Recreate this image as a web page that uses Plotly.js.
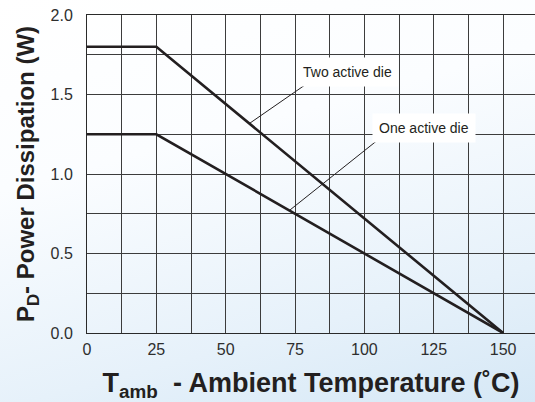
<!DOCTYPE html>
<html>
<head>
<meta charset="utf-8">
<script src="https://cdn.plot.ly/plotly-3.0.1.min.js"></script>
<style>
  html, body { margin: 0; padding: 0; }
  body { width: 535px; height: 402px; overflow: hidden;
         background: linear-gradient(165deg, #ffffff 0%, #fbfdff 35%, #e6f1fa 75%, #d6e8f6 100%); }
  #chart { width: 535px; height: 402px; }
</style>
</head>
<body>
<div id="chart"></div>
<script>
// Ambient temperature (°C) breakpoints of the derating curves
const tempC = [0, 25, 150];
// Power dissipation (W)
const twoDiePower = [1.8, 1.8, 0];
const oneDiePower = [1.25, 1.25, 0];

// Labels
const twoDieLabel = "Two active die";
const oneDieLabel = "One active die";
// Label anchor (data coords) and leader line endpoints [point on curve, tail]
const twoDieLabelPos = [93.8, 1.642];
const oneDieLabelPos = [121.5, 1.292];
const twoDieLeaderX = [58.4, 78.6];
const twoDieLeaderY = [1.316, 1.56];
const oneDieLeaderX = [73.2, 105.7];
const oneDieLeaderY = [0.774, 1.226];

const xTicks = [0, 25, 50, 75, 100, 125, 150];
const yTicks = [0, 0.5, 1.0, 1.5, 2.0];

const curveLine = { color: '#231f20', width: 2.6 };

const traces = [
  { x: tempC, y: twoDiePower, mode: 'lines', line: curveLine, name: twoDieLabel, hoverinfo: 'skip' },
  { x: tempC, y: oneDiePower, mode: 'lines', line: curveLine, name: oneDieLabel, hoverinfo: 'skip' }
];

const gridCol = '#3c3c3c';
const layout = {
  width: 535, height: 402,
  margin: { l: 87, r: 0, t: 15, b: 69 },
  paper_bgcolor: 'rgba(0,0,0,0)',
  plot_bgcolor: 'rgba(0,0,0,0)',
  showlegend: false,
  font: { family: 'Liberation Sans, Arial, sans-serif', color: '#2a2a2a' },
  xaxis: {
    range: [0, 161.5],
    tickvals: xTicks,
    ticktext: xTicks.map(String),
    tickfont: { size: 16, color: '#2e2e2e' },
    showgrid: true, gridcolor: gridCol, gridwidth: 1,
    minor: { dtick: 12.5, tick0: 0, showgrid: true, gridcolor: gridCol, gridwidth: 1 },
    dtick: 25,
    showline: true, linecolor: '#2a2a2a', linewidth: 1, mirror: true,
    zeroline: false, ticks: '', ticklabelstandoff: 2,
    title: { text: 'T<sub>amb</sub>  - Ambient Temperature (˚C)',
             font: { size: 27, family: 'Liberation Sans, Arial, sans-serif', weight: 'bold', color: '#231f20' },
             standoff: 16 }
  },
  yaxis: {
    range: [0, 2.0],
    tickvals: yTicks,
    ticktext: yTicks.map(v => v.toFixed(1)),
    tickfont: { size: 16, color: '#2e2e2e' },
    showgrid: true, gridcolor: gridCol, gridwidth: 1,
    minor: { dtick: 0.25, tick0: 0, showgrid: true, gridcolor: gridCol, gridwidth: 1 },
    showline: true, linecolor: '#2a2a2a', linewidth: 1,
    zeroline: false, ticks: '', ticklabelstandoff: 10,
    title: { text: 'P<sub>D</sub>- Power Dissipation (W)',
             font: { size: 24, family: 'Liberation Sans, Arial, sans-serif', weight: 'bold', color: '#231f20' },
             standoff: 9 }
  },
  shapes: [
    { type: 'line', xref: 'x', yref: 'y', x0: twoDieLeaderX[0], y0: twoDieLeaderY[0], x1: twoDieLeaderX[1], y1: twoDieLeaderY[1],
      line: { color: '#231f20', width: 1 } },
    { type: 'line', xref: 'x', yref: 'y', x0: oneDieLeaderX[0], y0: oneDieLeaderY[0], x1: oneDieLeaderX[1], y1: oneDieLeaderY[1],
      line: { color: '#231f20', width: 1 } }
  ],
  annotations: [
    { x: twoDieLabelPos[0], y: twoDieLabelPos[1], xref: 'x', yref: 'y', text: twoDieLabel, showarrow: false,
      bgcolor: '#ffffff', borderpad: 6, font: { size: 14, color: '#231f20' } },
    { x: oneDieLabelPos[0], y: oneDieLabelPos[1], xref: 'x', yref: 'y', text: oneDieLabel, showarrow: false,
      bgcolor: '#ffffff', borderpad: 6, font: { size: 14, color: '#231f20' } }
  ]
};

Plotly.newPlot('chart', traces, layout, { staticPlot: true, displayModeBar: false });
</script>
</body>
</html>
